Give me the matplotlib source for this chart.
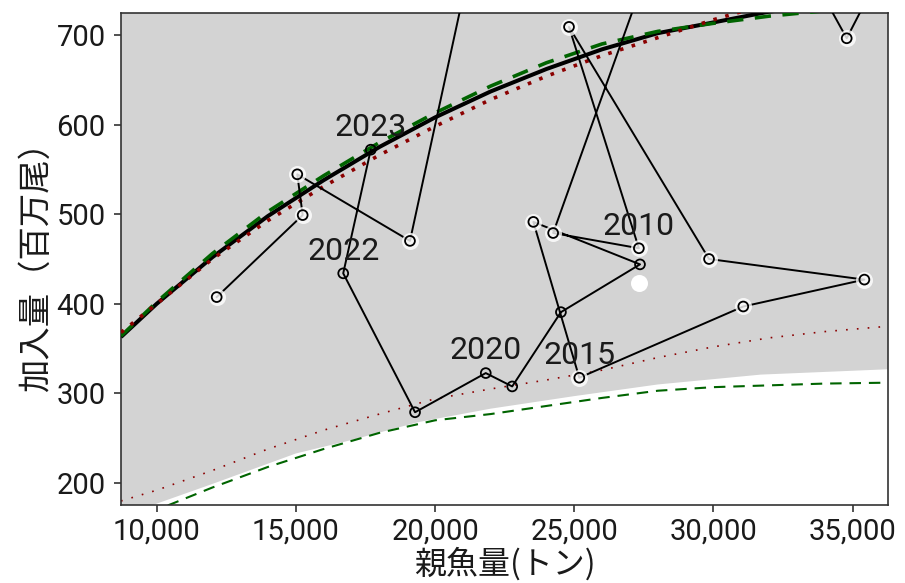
import matplotlib
matplotlib.use("Agg")
import matplotlib.pyplot as plt
from matplotlib.ticker import FuncFormatter

plt.rcParams['font.family'] = ['Roboto', 'Noto Sans CJK JP', 'DejaVu Sans']

# ---- observed stock-recruitment trajectory ----
years = [2001, 2002, 2003, 2004, 2005, 2006, 2007, 2008, 2009, 2010, 2011, 2012,
         2013, 2014, 2015, 2016, 2017, 2018, 2019, 2020, 2021, 2022, 2023]
ssb = [12155, 15244, 15050, 19098, 22800, 39000, 34785, 29910, 24240, 27320, 24810,
       29840, 35420, 31070, 25180, 23530, 27360, 24520, 22770, 21820, 19280, 16700, 17690]
rec = [407.5, 499, 544.5, 470.2, 1000, 950, 696.3, 971, 479, 462, 709,
       450, 427, 397, 317.5, 491.4, 444, 390.7, 307.8, 322.7, 279, 434, 572]
halo_until = 2016
label_years = [2010, 2015, 2020, 2022, 2023]

# white marker (extra point)
extra_ssb = [27335]
extra_rec = [423]

# ---- fitted curves (upper) ----
fit_x = [8718, 10000, 12000, 14000, 16000, 18000, 20000, 22000, 24000, 26000, 28000, 30000, 32000, 34000]
black_y = [363, 400, 452, 498, 538, 575, 608, 637, 662, 684, 702, 714, 726, 734]
green_y = [364, 402, 456, 503, 543, 580, 613, 643, 669, 690, 704, 713, 721, 727]
red_y = [368, 400, 450, 493, 531, 566, 598, 628, 654, 677, 697, 717, 735, 750]

# ---- lower reference lines ----
low_x = [8718, 10000, 12000, 14000, 16000, 18000, 20000, 22000, 24000, 26000, 28000, 30000, 32000, 34000, 36300]
low_red = [180, 192, 214, 238, 259, 277, 294, 305, 315, 326, 340, 352, 362, 369, 375]
low_green_x = [10400, 12000, 14000, 16000, 18000, 20000, 22000, 24000, 26000, 28000, 30000, 32000, 34000, 36300]
low_green = [175, 195, 218, 238, 256, 270, 277, 286, 295, 303, 307, 309, 311, 312]

# ---- boundary of grey region ----
bnd_x = [8700, 10000, 12000, 15000, 17000, 19400, 22000, 25000, 28000, 31700, 34000, 36300]
bnd_y = [160, 177, 199, 233, 248, 268, 283, 297, 310, 321, 324, 327]

xticks = [10000, 15000, 20000, 25000, 30000, 35000]
yticks = [200, 300, 400, 500, 600, 700]

fig = plt.figure(figsize=(9.05, 5.83), dpi=100)
ax = fig.add_axes([0.1337, 0.1338, 0.9812 - 0.1337, 0.9777 - 0.1338])
ax.set_facecolor('white')

ax.fill_between(bnd_x, bnd_y, [2000] * len(bnd_x), color='#d3d3d3', lw=0, zorder=0)

ax.plot(low_x, low_red, color='#8b0000', lw=1.2, dashes=(1, 5.5), zorder=2)
ax.plot(low_green_x, low_green, color='#006400', lw=1.5, dashes=(5.5, 3.8), zorder=2)

ax.plot(fit_x, black_y, color='black', lw=2.9, zorder=3, solid_capstyle='butt')
ax.plot(fit_x, green_y, color='#006400', lw=2.6, dashes=(4.5, 3.2), zorder=3)
ax.plot(fit_x, red_y, color='#8b0000', lw=2.6, dashes=(1, 2.4), zorder=3)

ax.plot(ssb, rec, color='black', lw=1.4, zorder=4)

hx = [s for s, y in zip(ssb, years) if y <= halo_until]
hy = [r for r, y in zip(rec, years) if y <= halo_until]
ax.scatter(hx, hy, s=150, color='white', alpha=0.8, lw=0, zorder=5)
ax.scatter(ssb, rec, s=50, facecolor='none', edgecolor='black', lw=1.3, zorder=6)
ax.scatter(extra_ssb, extra_rec, s=150, color='white', lw=0, zorder=6)

for s, r, y in zip(ssb, rec, years):
    if y in label_years:
        ax.annotate(str(y), (s, r), xytext=(0, 16), textcoords='offset points',
                    ha='center', va='center', fontsize=23, color='#1a1a1a', zorder=7)

ax.set_xlim(8718, 36268)
ax.set_ylim(175.5, 724.5)
ax.set_xticks(xticks)
ax.set_yticks(yticks)
ax.xaxis.set_major_formatter(FuncFormatter(lambda v, p: f"{int(v):,}"))
ax.tick_params(axis='both', direction='out', length=5, width=1.2, color='#333333',
               labelsize=21, labelcolor='#1a1a1a')
ax.tick_params(axis='y', pad=6)
ax.tick_params(axis='x', pad=4)
for sp in ax.spines.values():
    sp.set_color('#333333')
    sp.set_linewidth(1.2)

ax.set_xlabel('親魚量(トン)', fontsize=23, color='#1a1a1a', labelpad=1,
              family=['Noto Sans CJK JP', 'DejaVu Sans'])
ax.set_ylabel('加入量（百万尾）', fontsize=24, color='#1a1a1a', labelpad=2,
              family=['Noto Sans CJK JP', 'DejaVu Sans'])

fig.savefig('out.png', dpi=100)
